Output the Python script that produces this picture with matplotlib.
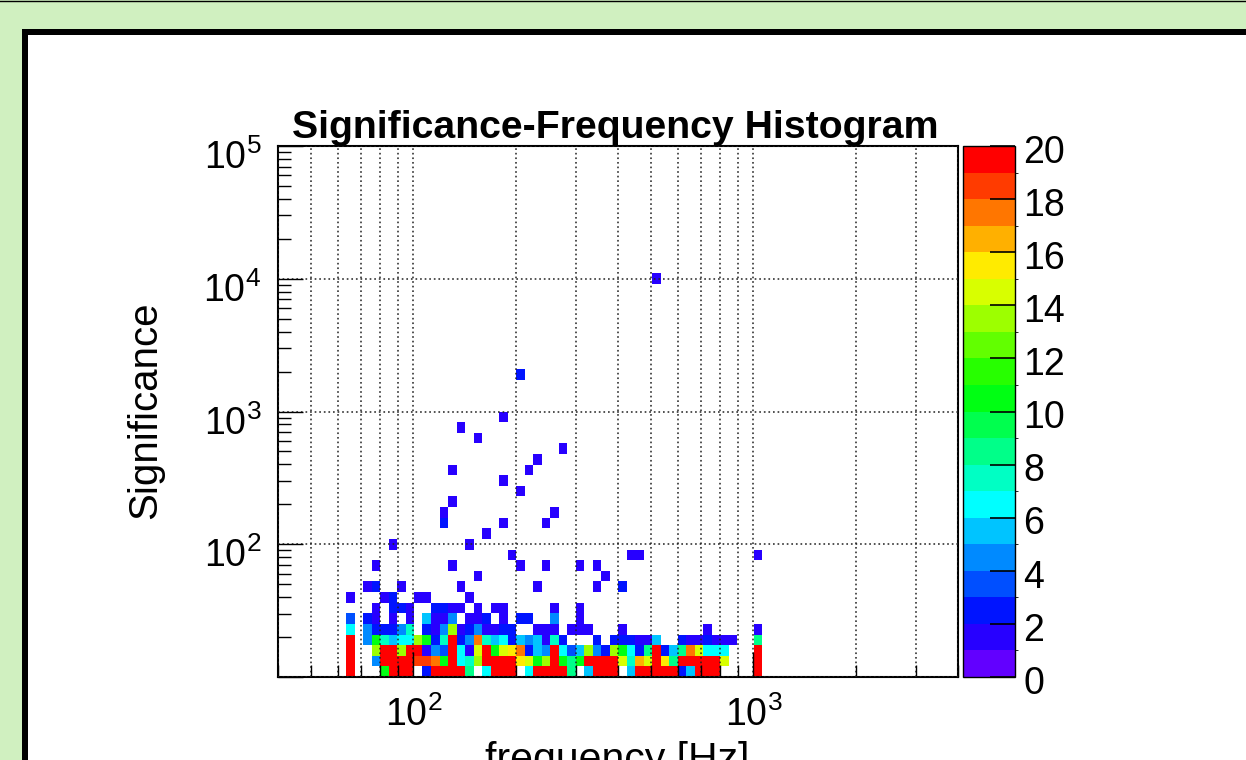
import numpy as np
import matplotlib
matplotlib.use("Agg")
import matplotlib.pyplot as plt
import matplotlib.ticker as mticker
import matplotlib.transforms as mtrans
from matplotlib.colors import ListedColormap, BoundaryNorm, hsv_to_rgb
from matplotlib.patches import Rectangle
from matplotlib.lines import Line2D

plt.rcParams['font.family'] = ['Liberation Sans', 'DejaVu Sans']
plt.rcParams['mathtext.fontset'] = 'custom'
plt.rcParams['mathtext.rm'] = 'Liberation Sans'
plt.rcParams['mathtext.it'] = 'Liberation Sans:italic'
plt.rcParams['mathtext.bf'] = 'Liberation Sans:bold'

# ---------------- data ----------------
R = 25  # saturated cells (above colour scale top)

# dense low-significance rows: counts per frequency bin, starting at ~63 Hz
dense_fmin = 63.0
dense_sig = [11.0, 13.2, 15.8, 19.1, 22.9]
row_11 = [R, 0, 0, 0, 10, R, R, R, 0, 2, R, R, R, R, 8, 0, 6, R, R, R, 0, 6, R, R, R, R, 8, 0, 5,
          R, R, R, 0, 5, R, R, R, R, R, 2, 5, R, R, R, 0, 0, 0, 0, R]
row_13 = [R, 0, 0, 4, R, R, R, R, 18, 18, 17, 10, R, 6, 7, 13, R, R, R, R, 15, 14, 10, 13, R, 10, 8, 10,
          R, R, R, R, 14, 7, 16, 14, R, 15, 8, R, R, R, R, R, 14, 0, 0, 0, R]
row_16 = [R, 0, 0, 13, R, R, 13, R, R, 1, 4, 3, R, 6, 1, 14, R, 10, 14, 15, 17, 2, 5, 4, R, 6, 3, 5,
          13, 4, 2, 13, 10, 6, 2, 8, R, 2, 5, 8, 17, 14, 6, 6, 6, 0, 0, 0, R]
row_19 = [R, 0, 4, 10, 7, 5, 6, 6, 13, 10, 2, 7, R, 2, 4, 17, 7, 5, 6, 2, 5, 4, 5, 1, 7, 2, 0, 0,
          0, 2, 0, 2, 2, 2, 1, 1, 5, 0, 0, 2, 1, 1, 2, 1, 1, 1, 0, 0, 8]
row_23 = [6, 0, 4, 2, 2, 2, 4, 7, 0, 2, 1, 4, 13, 1, 2, 4, 1, 1, 2, 2, 0, 0, 1, 1, 1, 0, 1, 1,
          1, 0, 0, 0, 1, 0, 0, 0, 0, 0, 0, 0, 0, 0, 1, 0, 0, 0, 0, 0, 1]
dense_rows = [row_11, row_13, row_16, row_19, row_23]

# sparse cells: frequency [Hz], significance, entries
sparse_freq = [65, 73, 78, 87, 98, 110, 116, 123, 130, 146, 155, 164, 184, 206, 219, 260, 309,
               78, 87, 92, 98, 116, 123, 130, 138, 155, 174, 184, 260, 309,
               65, 82, 87, 103, 110, 146,
               73, 78, 92, 138, 232, 346, 412,
               155, 367,
               78, 130, 206, 245, 309, 346,
               195, 436, 462, 1034,
               87, 146,
               164,
               123, 184, 245,
               123, 260,
               130, 206, 184, 130, 219, 232, 275, 155, 138, 184, 206, 518]
sparse_sig = [27.5] * 17 + [33.1] * 13 + [39.8] * 6 + [47.9] * 7 + [57.5] * 2 + [69.2] * 6 + \
             [83.2] * 4 + [100] * 2 + [120] + [144.5] * 3 + [174] * 2 + \
             [209, 251, 302, 363, 363, 437, 525, 631, 759, 912, 1905, 10000]
sparse_n = [3, 2, 1, 1, 1, 5, 1, 1, 4, 1, 1, 2, 1, 2, 2, 4, 1,
            1, 2, 2, 1, 2, 2, 1, 1, 1, 1, 1, 1, 1,
            1, 1, 2, 1, 1, 1,
            1, 2, 1, 1, 1, 1, 2,
            1, 1,
            1, 1, 1, 1, 1, 1,
            1, 1, 1, 1,
            1, 1,
            1,
            2, 1, 1,
            1, 1,
            1, 1, 1, 1, 1, 1, 1, 1, 1, 1, 2, 1]

# ---------------- binning ----------------
f_edges = np.logspace(np.log10(40), np.log10(4000), 81)
s_edges = np.logspace(1, 5, 51)
f_centers = np.sqrt(f_edges[:-1] * f_edges[1:])
i0 = np.searchsorted(f_centers, dense_fmin)

fx, sy, w = list(sparse_freq), list(sparse_sig), list(sparse_n)
for sig, row in zip(dense_sig, dense_rows):
    fx += list(f_centers[i0:i0 + len(row)])
    sy += [sig] * len(row)
    w += row
H, _, _ = np.histogram2d(fx, sy, bins=[f_edges, s_edges], weights=w)
H = np.ma.masked_equal(H.T, 0)

# ROOT-like rainbow palette, 20 levels
hues = np.linspace(263, 0, 20) / 360.0
colors = [hsv_to_rgb((h, 1.0, 1.0)) for h in hues]
cmap = ListedColormap(colors).with_extremes(over=colors[-1])
norm = BoundaryNorm(np.arange(0, 21), 20)

# ---------------- figure ----------------
W, Hpx = 1246, 760
fig = plt.figure(figsize=(W / 100, Hpx / 100), dpi=100, facecolor='#d0f0c0')
fig.patches.append(Rectangle((25 / W, -0.1), 1.2, 1 - 32 / Hpx + 0.1, transform=fig.transFigure,
                             facecolor='white', edgecolor='black', lw=6 * 0.72, zorder=-10))
fig.add_artist(Line2D([0, 1], [1 - 0.6 / Hpx] * 2, color='black', lw=1))

ax = fig.add_axes([278 / W, 1 - 677 / Hpx, 680 / W, 531 / Hpx])
mesh = ax.pcolormesh(f_edges, s_edges, H, cmap=cmap, norm=norm, antialiased=False, edgecolors='none')
ax.set_xscale('log')
ax.set_yscale('log')
ax.set_xlim(40, 4000)
ax.set_ylim(10, 1e5)


def logfmt(v, pos):
    if v < 50:
        return ''
    return r'$\mathregular{10^{%d}}$' % int(round(np.log10(v)))


ax.xaxis.set_major_locator(mticker.FixedLocator([1e2, 1e3]))
ax.xaxis.set_minor_locator(mticker.LogLocator(base=10, subs=np.arange(2, 10)))
ax.xaxis.set_minor_formatter(mticker.NullFormatter())
ax.xaxis.set_major_formatter(mticker.FuncFormatter(logfmt))
ax.yaxis.set_major_locator(mticker.FixedLocator([1e1, 1e2, 1e3, 1e4, 1e5]))
ax.yaxis.set_minor_locator(mticker.LogLocator(base=10, subs=np.arange(2, 10)))
ax.yaxis.set_minor_formatter(mticker.NullFormatter())
ax.yaxis.set_major_formatter(mticker.FuncFormatter(logfmt))

grid_style = dict(color='#222222', lw=1.1, ls=(0, (1.1, 1.9)))
ax.grid(which='major', **grid_style)
ax.grid(which='minor', axis='x', **grid_style)
ax.set_axisbelow(False)

ax.tick_params(which='major', direction='in', length=18, width=1, labelsize=27)
ax.tick_params(which='minor', direction='in', length=9, width=1)
ax.tick_params(axis='y', pad=12)
ax.tick_params(axis='x', pad=14)
for s in ax.spines.values():
    s.set_linewidth(1.5)

off = mtrans.ScaledTranslation(0, -6 / 72, fig.dpi_scale_trans)
for lab in ax.get_yticklabels():
    lab.set_transform(lab.get_transform() + off)

cax = fig.add_axes([963 / W, 1 - 677 / Hpx, 52 / W, 531 / Hpx])
cb = fig.colorbar(mesh, cax=cax, ticks=np.arange(0, 21, 2))
cb.outline.set_linewidth(1.0)
cax.tick_params(direction='in', length=18, width=1.2, labelsize=27, pad=6)
cax.set_yticklabels([str(t) for t in range(0, 21, 2)])
off_cb = mtrans.ScaledTranslation(0, -2 / 72, fig.dpi_scale_trans)
for lab in cax.get_yticklabels():
    lab.set_transform(lab.get_transform() + off_cb)

fig.text(615 / W, 1 - 138 / Hpx, 'Significance-Frequency Histogram', ha='center', va='baseline',
         fontsize=28.3, fontweight='bold')
fig.text(145 / W, 1 - 410 / Hpx, 'Significance', rotation=90, ha='center', va='center', fontsize=29)
fig.text(617 / W, 1 - 771 / Hpx, 'frequency [Hz]', ha='center', va='baseline', fontsize=29.5)

fig.savefig('out.png', dpi=100)
